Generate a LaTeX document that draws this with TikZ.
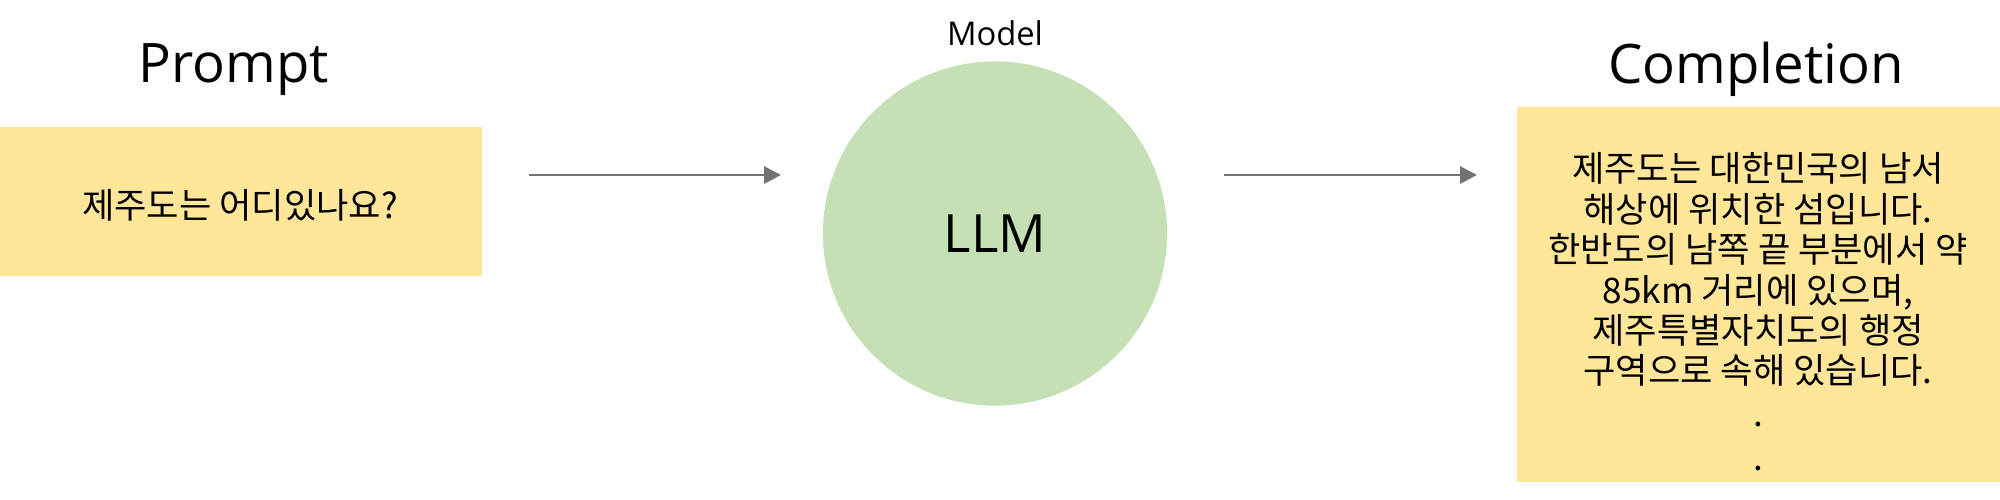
\documentclass[tikz,border=0pt]{standalone}
\usepackage{fontspec}
\setmainfont{Open Sans}
\newfontfamily\kr{Noto Sans CJK KR}
\usetikzlibrary{arrows.meta}

\definecolor{boxyellow}{HTML}{FFE699}
\definecolor{llmgreen}{HTML}{C5E0B4}
\definecolor{arrowgray}{HTML}{767171}

\begin{document}
\begin{tikzpicture}[
  x=0.01cm, y=-0.01cm,
  title/.style={font=\fontsize{15.5}{18}\selectfont, anchor=base},
  textbox/.style={fill=boxyellow, inner sep=0pt},
  kortxt/.style={font=\kr\fontsize{10}{11.5}\selectfont, align=center, inner sep=0pt},
  flow/.style={draw=arrowgray, line width=0.8pt, -{Triangle[length=1.7mm, width=1.7mm]}}
]
  \useasboundingbox (0,0) rectangle (2000,499);

  % --- Prompt ---
  \node[title] (ptitle) at (234, 82) {Prompt};
  \node[textbox, minimum width=4.82cm, minimum height=1.49cm] (prompt) at (241, 201.5) {};
  \node[kortxt] (ptext) at (240, 205) {제주도는 어디있나요?};

  % --- Model ---
  \node[circle, fill=llmgreen, minimum size=3.44cm, inner sep=0pt] (llm) at (995, 233.5) {};
  \node[font=\fontsize{9.3}{11}\selectfont, anchor=base] (mtitle) at (995, 45) {Model};
  \node[font=\fontsize{15}{18}\selectfont, anchor=base] (ltext) at (995, 252) {LLM};

  % --- Completion ---
  \node[title] (ctitle) at (1756, 83) {Completion};
  \node[textbox, minimum width=4.83cm, minimum height=3.75cm] (compl) at (1758.5, 294.5) {};
  \node[kortxt] (ctext) at (1758, 312) {제주도는 대한민국의 남서\\
    해상에 위치한 섬입니다.\\
    한반도의 남쪽 끝 부분에서 약\\
    85km 거리에 있으며,\\
    제주특별자치도의 행정\\
    구역으로 속해 있습니다.\\[0.2mm]
    .\\[0.4mm]
    .};

  % arrows
  \coordinate (a1) at (529, 175);
  \coordinate (b1) at (781, 175);
  \coordinate (a2) at (1224, 175);
  \coordinate (b2) at (1477, 175);
  \draw[flow] (a1) -- (b1);
  \draw[flow] (a2) -- (b2);
\end{tikzpicture}
\end{document}
